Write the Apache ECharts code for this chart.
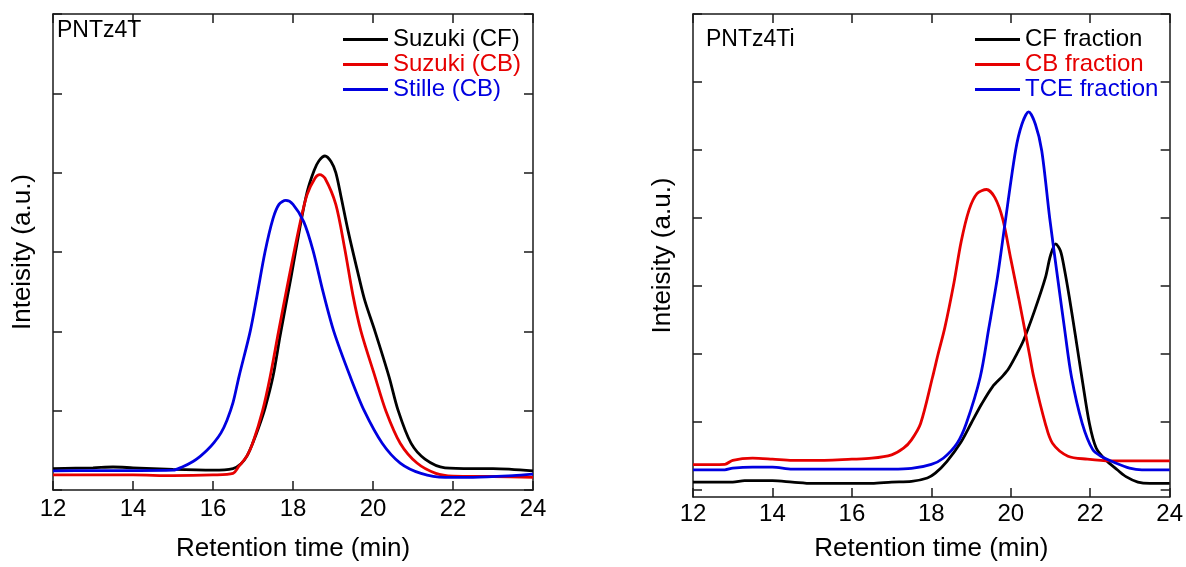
<!DOCTYPE html>
<html>
<head>
<meta charset="utf-8">
<script src="https://cdn.jsdelivr.net/npm/echarts@6/dist/echarts.min.js"></script>
<style>
  html, body { margin: 0; padding: 0; background: #fff; }
  #chart { width: 1186px; height: 567px; }
</style>
</head>
<body>
<div id="chart"></div>
<script>
// x ticks (min)
const xTicks = [12, 14, 16, 18, 20, 22, 24];
const rightYTicks = [0, 1, 2, 3, 4, 5, 6, 7];

// PNTz4T (left panel)
const suzukiCF = [[12.0,0.27],[13.0,0.28],[13.5,0.29],[14.0,0.28],[15.0,0.26],[16.0,0.25],[16.5,0.27],[16.7,0.33],[16.85,0.43],[17.0,0.6],[17.15,0.8],[17.3,1.03],[17.5,1.43],[17.68,1.95],[17.95,2.68],[18.17,3.3],[18.35,3.75],[18.53,4.03],[18.65,4.15],[18.8,4.21],[18.95,4.14],[19.07,4.0],[19.2,3.7],[19.38,3.26],[19.65,2.68],[19.8,2.38],[20.05,2.0],[20.4,1.43],[20.63,1.0],[20.95,0.59],[21.3,0.39],[21.8,0.28],[22.5,0.27],[23.0,0.27],[24.0,0.24]];
const suzukiCB = [[12.0,0.19],[14.0,0.19],[15.0,0.18],[16.0,0.19],[16.5,0.21],[16.65,0.3],[16.85,0.43],[17.0,0.6],[17.24,1.0],[17.43,1.43],[17.64,2.0],[17.9,2.68],[18.17,3.35],[18.35,3.72],[18.55,3.93],[18.67,3.975],[18.8,3.93],[19.07,3.6],[19.29,3.05],[19.5,2.45],[19.7,2.0],[20.05,1.43],[20.32,1.0],[20.68,0.59],[21.1,0.34],[21.57,0.21],[22.0,0.175],[23.0,0.17],[24.0,0.16]];
const stilleCB = [[12.0,0.24],[13.0,0.245],[14.0,0.245],[15.0,0.25],[15.23,0.29],[15.5,0.36],[15.68,0.425],[15.85,0.5],[16.03,0.6],[16.2,0.72],[16.35,0.88],[16.5,1.1],[16.65,1.43],[16.93,2.0],[17.1,2.45],[17.3,3.0],[17.5,3.42],[17.65,3.6],[17.82,3.65],[18.0,3.6],[18.27,3.38],[18.5,3.02],[18.75,2.5],[19.02,2.0],[19.43,1.43],[19.78,1.0],[20.23,0.59],[20.68,0.34],[21.2,0.21],[21.8,0.16],[22.5,0.16],[23.5,0.18],[24.0,0.2]];

// PNTz4Ti (right panel)
const cfFraction = [[12.0,0.12],[13.0,0.12],[13.3,0.14],[14.0,0.14],[14.5,0.12],[15.0,0.10],[16.5,0.10],[17.0,0.12],[17.5,0.13],[17.9,0.18],[18.1,0.25],[18.39,0.42],[18.74,0.7],[19.0,0.98],[19.27,1.27],[19.54,1.52],[19.8,1.68],[19.94,1.78],[20.15,2.0],[20.32,2.2],[20.6,2.64],[20.87,3.12],[21.0,3.45],[21.13,3.62],[21.25,3.52],[21.35,3.25],[21.47,2.85],[21.62,2.3],[21.8,1.62],[21.98,0.98],[22.15,0.62],[22.38,0.45],[22.68,0.30],[22.9,0.2],[23.2,0.12],[23.5,0.10],[24.0,0.10]];
const cbFraction = [[12.0,0.375],[12.8,0.38],[13.0,0.44],[13.5,0.47],[14.0,0.456],[14.5,0.437],[15.0,0.437],[16.0,0.456],[16.5,0.47],[17.0,0.52],[17.3,0.617],[17.5,0.74],[17.73,0.98],[18.03,1.66],[18.17,2.0],[18.34,2.39],[18.57,3.05],[18.75,3.65],[18.95,4.12],[19.15,4.36],[19.39,4.42],[19.6,4.3],[19.8,3.98],[20.0,3.4],[20.2,2.82],[20.47,2.0],[20.58,1.66],[20.87,0.98],[21.05,0.69],[21.44,0.5],[21.93,0.456],[22.5,0.43],[24.0,0.43]];
const tceFraction = [[12.0,0.30],[12.8,0.30],[13.0,0.325],[13.5,0.34],[14.0,0.34],[14.5,0.31],[16.0,0.31],[17.0,0.31],[17.5,0.32],[18.0,0.38],[18.3,0.47],[18.65,0.69],[18.88,0.98],[19.23,1.66],[19.45,2.39],[19.67,3.15],[19.85,3.9],[20.12,4.99],[20.28,5.38],[20.45,5.56],[20.62,5.38],[20.78,4.99],[20.98,4.0],[21.18,3.12],[21.35,2.39],[21.53,1.66],[21.8,0.98],[22.06,0.6],[22.27,0.5],[22.64,0.4],[22.99,0.325],[23.3,0.30],[24.0,0.30]];

const FONT = 'Liberation Sans, Arial, sans-serif';
const INK = '#1a1a1a';
const BLACK = '#000000';
const RED = '#e60000';
const BLUE = '#0000e0';

const chart = echarts.init(document.getElementById('chart'));

const frameLine = { show: true, onZero: false, lineStyle: { color: INK, width: 1.5 } };
const inTick = { show: true, inside: true, length: 9, lineStyle: { color: INK, width: 1.5 } };

function xAxis(grid, pos, labels, gap, margin) {
  return {
    type: 'value', gridIndex: grid, position: pos,
    min: xTicks[0], max: xTicks[xTicks.length - 1], interval: 2,
    axisLine: frameLine, axisTick: inTick, splitLine: { show: false },
    axisLabel: { show: labels, color: BLACK, fontSize: 24, fontFamily: FONT, margin: margin },
    name: labels ? 'Retention time (min)' : '',
    nameLocation: 'middle', nameGap: gap,
    nameTextStyle: { color: BLACK, fontSize: 26, fontFamily: FONT }
  };
}

function yAxis(grid, pos, named, range) {
  const ax = {
    type: 'value', gridIndex: grid, position: pos,
    min: range.min, max: range.max,
    axisLine: frameLine, splitLine: { show: false },
    axisLabel: { show: false },
    axisTick: Object.assign({}, inTick),
    name: named ? 'Inteisity (a.u.)' : '',
    nameLocation: 'middle', nameRotate: 90, nameGap: 17,
    nameTextStyle: { color: BLACK, fontSize: 26, fontFamily: FONT }
  };
  if (range.interval) ax.interval = range.interval;
  if (range.ticks) ax.axisTick.customValues = range.ticks;
  return ax;
}

const leftRange = { min: 0, max: 6, interval: 1 };
const rightRange = { min: -0.1, max: 7, ticks: rightYTicks };

function curve(name, data, color, idx) {
  return {
    name: name, type: 'line', data: data,
    xAxisIndex: idx, yAxisIndex: idx,
    smooth: 0.3, showSymbol: false, silent: true,
    lineStyle: { color: color, width: 2.8 },
    itemStyle: { color: color }
  };
}

function legend(left, items) {
  return {
    left: left, top: 27, orient: 'vertical', padding: 0,
    itemGap: 0, itemWidth: 45, itemHeight: 3, icon: 'rect',
    textStyle: { fontSize: 24, fontFamily: FONT, lineHeight: 25 },
    data: items.map(([name, color]) => ({ name: name, textStyle: { color: color } }))
  };
}

chart.setOption({
  animation: false,
  backgroundColor: '#fff',
  title: [
    { text: 'PNTz4T', left: 57, top: 19, padding: 0, textStyle: { fontSize: 23, fontWeight: 'normal', color: BLACK, fontFamily: FONT } },
    { text: 'PNTz4Ti', left: 706, top: 28, padding: 0, textStyle: { fontSize: 23, fontWeight: 'normal', color: BLACK, fontFamily: FONT } }
  ],
  legend: [
    legend(343, [['Suzuki (CF)', BLACK], ['Suzuki (CB)', RED], ['Stille (CB)', BLUE]]),
    legend(975, [['CF fraction', BLACK], ['CB fraction', RED], ['TCE fraction', BLUE]])
  ],
  grid: [
    { left: 53, top: 14, width: 480, height: 480 },
    { left: 693, top: 14, width: 480, height: 487 }
  ],
  xAxis: [
    xAxis(0, 'bottom', true, 46, 7),
    xAxis(0, 'top', false, 0, 0),
    xAxis(1, 'bottom', true, 39, 5),
    xAxis(1, 'top', false, 0, 0)
  ],
  yAxis: [
    yAxis(0, 'left', true, leftRange),
    yAxis(0, 'right', false, leftRange),
    yAxis(1, 'left', true, rightRange),
    yAxis(1, 'right', false, rightRange)
  ],
  series: [
    curve('Suzuki (CF)', suzukiCF, BLACK, 0),
    curve('Suzuki (CB)', suzukiCB, RED, 0),
    curve('Stille (CB)', stilleCB, BLUE, 0),
    curve('CF fraction', cfFraction, BLACK, 2),
    curve('CB fraction', cbFraction, RED, 2),
    curve('TCE fraction', tceFraction, BLUE, 2)
  ]
});
</script>
</body>
</html>
